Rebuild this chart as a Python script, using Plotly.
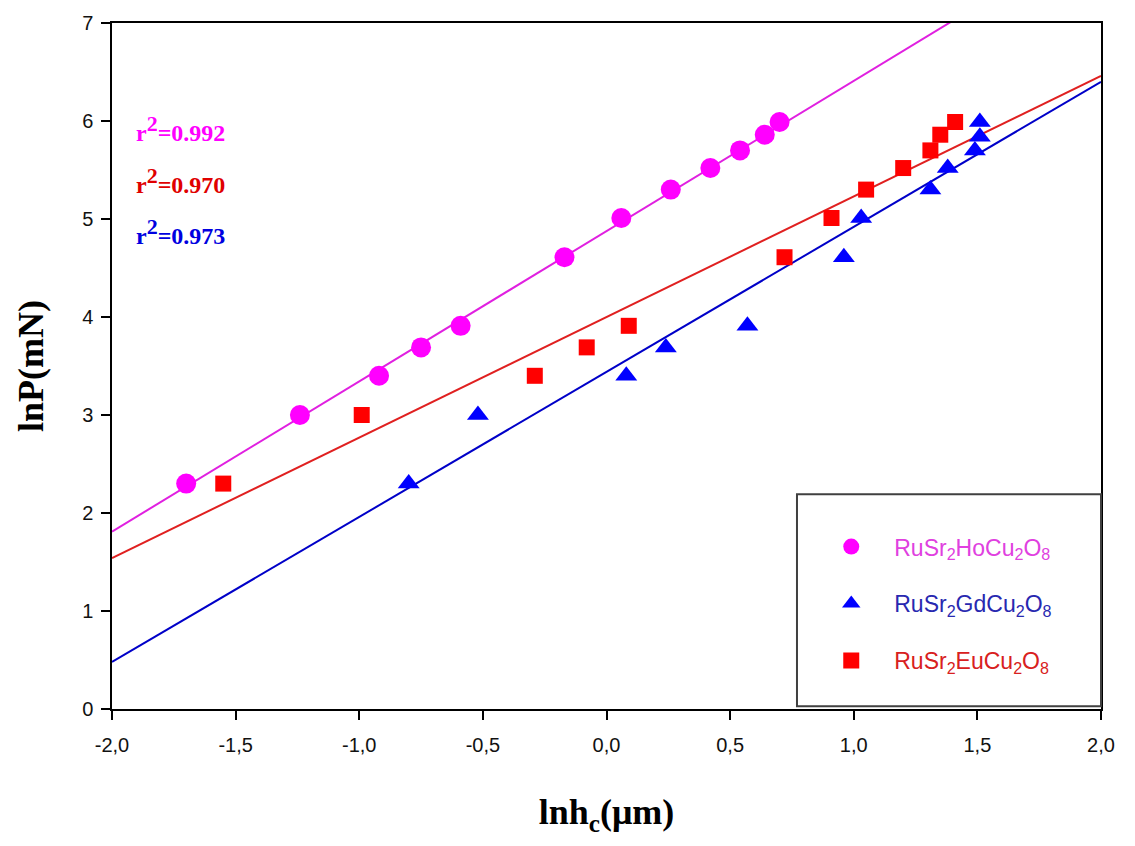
import plotly.graph_objects as go

# Data
lnP = [2.30, 3.00, 3.40, 3.69, 3.91, 4.61, 5.01, 5.30, 5.52, 5.70, 5.86, 5.99]
ho_x = [-1.70, -1.24, -0.92, -0.75, -0.59, -0.17, 0.06, 0.26, 0.42, 0.54, 0.64, 0.70]
gd_x = [-0.80, -0.52, 0.08, 0.24, 0.57, 0.96, 1.03, 1.31, 1.38, 1.49, 1.51, 1.51]
gd_y = [2.30, 3.00, 3.40, 3.69, 3.91, 4.61, 5.01, 5.30, 5.52, 5.70, 5.84, 5.99]
eu_x = [-1.55, -0.99, -0.29, -0.08, 0.09, 0.72, 0.91, 1.05, 1.20, 1.31, 1.35, 1.41]

# Linear fit lines (slope, intercept)
fit_ho = (1.533, 4.876)
fit_gd = (1.48, 3.44)
fit_eu = (1.23, 4.00)
fit_x = [-2.0, 2.0]

x_ticks = [-2.0, -1.5, -1.0, -0.5, 0.0, 0.5, 1.0, 1.5, 2.0]
x_ticktext = ["-2,0", "-1,5", "-1,0", "-0,5", "0,0", "0,5", "1,0", "1,5", "2,0"]
y_ticks = [0, 1, 2, 3, 4, 5, 6, 7]

r2_labels = ["0.992", "0.970", "0.973"]
names = ["RuSr<sub>2</sub>HoCu<sub>2</sub>O<sub>8</sub>",
         "RuSr<sub>2</sub>GdCu<sub>2</sub>O<sub>8</sub>",
         "RuSr<sub>2</sub>EuCu<sub>2</sub>O<sub>8</sub>"]

c_ho, c_gd, c_eu = "#FF00FF", "#0000FF", "#FF0000"
l_ho, l_gd, l_eu = "#E020E0", "#0000C8", "#E02020"
t_ho, t_gd, t_eu = "#E040E0", "#2828B0", "#D82020"

fig = go.Figure()

def line(fit, col):
    m, b = fit
    ys = [m * x + b for x in fit_x]
    fig.add_trace(go.Scatter(x=fit_x, y=ys, mode="lines", line=dict(color=col, width=2),
                             showlegend=False, hoverinfo="skip"))

line(fit_ho, l_ho)
line(fit_eu, l_eu)
line(fit_gd, l_gd)

fig.add_trace(go.Scatter(x=ho_x, y=lnP, mode="markers", legendgroup="a",
                         name="<span style='color:%s'>%s</span>" % (t_ho, names[0]),
                         marker=dict(symbol="circle", size=20, color=c_ho)))
fig.add_trace(go.Scatter(x=gd_x, y=gd_y, mode="markers", legendgroup="b",
                         name="<span style='color:%s'>%s</span>" % (t_gd, names[1]),
                         marker=dict(symbol="triangle-up", size=19, color=c_gd)))
fig.add_trace(go.Scatter(x=eu_x, y=lnP, mode="markers", legendgroup="c",
                         name="<span style='color:%s'>%s</span>" % (t_eu, names[2]),
                         marker=dict(symbol="square", size=16, color=c_eu)))

# r^2 annotations
for i, (lab, col) in enumerate(zip(r2_labels, [c_ho, "#E00000", "#0000E0"])):
    fig.add_annotation(xref="paper", yref="paper", x=0.022, y=0.846 - i * 0.075,
                       xanchor="left", yanchor="middle", showarrow=False,
                       text="<b>r<sup><span style='font-size:22px'>2</span></sup>=%s</b>" % lab,
                       font=dict(family="Liberation Serif", size=24, color=col))

# legend box
fig.add_shape(type="rect", xref="paper", yref="paper", x0=0.6926, x1=1.0, y0=0.004, y1=0.313,
              line=dict(color="#404040", width=2), fillcolor="rgba(0,0,0,0)")

axis_common = dict(showline=True, linecolor="black", linewidth=1.5, mirror=True,
                   ticks="outside", ticklen=9, tickwidth=1.5, tickcolor="black",
                   showgrid=False, zeroline=False,
                   tickfont=dict(family="Liberation Sans", size=20, color="#111111"))

fig.update_layout(
    width=1135, height=846,
    margin=dict(l=112, r=34, t=15, b=137),
    plot_bgcolor="white", paper_bgcolor="white",
    showlegend=True,
    legend=dict(x=0.704, y=0.268, xanchor="left", yanchor="top",
                font=dict(family="Liberation Sans", size=23),
                tracegroupgap=24, bgcolor="rgba(0,0,0,0)", itemwidth=76,
                traceorder="grouped"),
    xaxis=dict(range=[-2, 2], tickvals=x_ticks, ticktext=x_ticktext, ticklabelstandoff=8,
               title=dict(text="<b>lnh<sub>c</sub>(μm)</b>", standoff=44,
                          font=dict(family="Liberation Serif", size=36, color="black")),
               **axis_common),
    yaxis=dict(range=[0, 7], tickvals=y_ticks, ticklabelstandoff=4,
               title=dict(text="<b>lnP(mN)</b>", standoff=28,
                          font=dict(family="Liberation Serif", size=36, color="black")),
               **axis_common),
)

fig.write_html("out.html")
